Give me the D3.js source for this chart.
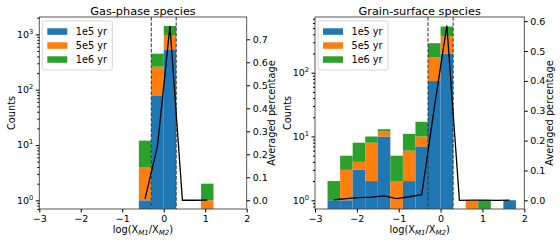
<!DOCTYPE html>
<html>
<head>
<meta charset="utf-8">
<script src="https://cdn.jsdelivr.net/npm/d3@7"></script>
<style>
body { margin: 0; background: #fff; }
text { font-family: "DejaVu Sans", sans-serif; fill: #000; }
</style>
</head>
<body>
<div id="chart"></div>
<script>
// legend / stack order
var timeLabels = ["1e5 yr", "5e5 yr", "1e6 yr"];
var colors = ["#1f77b4", "#ff7f0e", "#2ca02c"];
var binWidth = 0.3;

// gas-phase: left edges of non-empty bins, counts per time
var gasBins = [-0.6, -0.3, 0.0, 0.9];
var gas1e5 = [1, 77, 537, 0];
var gas5e5 = [3, 184, 440, 1];
var gas1e6 = [8, 187, 442, 1];
var gasCenters = [-0.45, -0.15, 0.15, 0.45, 0.75, 1.05];
var gasPct = [0.006, 0.236, 0.758, 0, 0, 0.001];

// grain-surface
var grainBins = [-2.7, -2.4, -2.1, -1.8, -1.5, -1.2, -0.9, -0.6, -0.3, 0.0, 0.6, 0.9, 1.5];
var grain1e5 = [1, 1, 3, 2, 10, 0, 2, 7, 74, 198, 0, 0, 1];
var grain5e5 = [0, 2, 1, 6, 2, 2, 4, 3, 101, 175, 1, 0, 0];
var grain1e6 = [1, 2, 4, 2, 1, 3, 5, 7, 115, 156, 0, 1, 0];
var grainCenters = [-2.55, -2.25, -1.95, -1.65, -1.35, -1.05, -0.75, -0.45, -0.15, 0.15, 0.45, 0.75, 1.05, 1.35, 1.65];
var grainPct = [0.002, 0.006, 0.009, 0.011, 0.015, 0.006, 0.012, 0.019, 0.31, 0.585, 0, 0.001, 0.001, 0, 0.001];

var xTicks = [-3, -2, -1, 0, 1, 2];
var cutLines = [-0.3, 0.3];
var gasCountTicks = [1, 10, 100, 1000];
var grainCountTicks = [1, 10, 100];
var gasPctTicks = [0, 0.1, 0.2, 0.3, 0.4, 0.5, 0.6, 0.7];
var grainPctTicks = [0, 0.1, 0.2, 0.3, 0.4, 0.5, 0.6];

var W = 560, H = 240, plotTop = 17, plotBottom = 209;
var tickFont = 9.5;

var svg = d3.select("#chart").append("svg")
    .attr("width", W).attr("height", H);

function minus(d) { return d < 0 ? "\u2212" + Math.abs(d) : String(d); }

function drawPanel(cfg, idx) {
    var x = d3.scaleLinear().domain([-3, 2]).range([cfg.x0, cfg.x1]);
    var y = d3.scaleLog().domain(cfg.countDomain).range([plotBottom, plotTop]);
    var y2 = d3.scaleLinear().domain(cfg.pctDomain).range([plotBottom, plotTop]);
    var g = svg.append("g");

    g.append("clipPath").attr("id", "clip" + idx)
        .append("rect").attr("x", cfg.x0).attr("y", plotTop)
        .attr("width", cfg.x1 - cfg.x0).attr("height", plotBottom - plotTop);

    var plot = g.append("g").attr("clip-path", "url(#clip" + idx + ")");

    // stacked bars
    cfg.bins.forEach(function(b, i) {
        var cum = 0;
        cfg.series.forEach(function(s, k) {
            var v = s[i];
            if (v <= 0) return;
            var y0 = cum > 0 ? y(cum) : plotBottom;
            var y1 = y(cum + v);
            plot.append("rect")
                .attr("x", x(b)).attr("width", x(b + binWidth) - x(b))
                .attr("y", y1).attr("height", y0 - y1)
                .attr("fill", colors[k]);
            cum += v;
        });
    });

    // cut lines
    plot.selectAll(".cut").data(cutLines).enter().append("line")
        .attr("x1", function(d) { return x(d); }).attr("x2", function(d) { return x(d); })
        .attr("y1", plotTop).attr("y2", plotBottom)
        .attr("stroke", "#333").attr("stroke-width", 1)
        .attr("stroke-dasharray", "3.7,1.6");

    // averaged percentage line
    var pts = cfg.centers.map(function(c, i) { return [c, cfg.pct[i]]; });
    plot.append("path").datum(pts)
        .attr("d", d3.line().x(function(d) { return x(d[0]); }).y(function(d) { return y2(d[1]); }))
        .attr("fill", "none").attr("stroke", "#000").attr("stroke-width", 1.3);

    // frame
    g.append("rect").attr("x", cfg.x0).attr("y", plotTop)
        .attr("width", cfg.x1 - cfg.x0).attr("height", plotBottom - plotTop)
        .attr("fill", "none").attr("stroke", "#444").attr("stroke-width", 0.9);

    // x axis
    var xa = g.append("g").attr("transform", "translate(0," + plotBottom + ")")
        .call(d3.axisBottom(x).tickValues(xTicks).tickSize(3.5).tickPadding(2.5).tickFormat(minus));
    xa.select(".domain").remove();
    xa.selectAll("text").attr("font-size", tickFont).attr("font-family", "DejaVu Sans");

    // left log axis with minor ticks
    var minor = [];
    for (var e = -1; e < 4; e++) {
        for (var m = 2; m < 10; m++) {
            var v = m * Math.pow(10, e);
            if (v > cfg.countDomain[0] && v < cfg.countDomain[1]) minor.push(v);
        }
    }
    var ya = g.append("g").attr("transform", "translate(" + cfg.x0 + ",0)");
    ya.call(d3.axisLeft(y).tickValues(minor).tickSize(2).tickFormat(""));
    ya.append("g").call(d3.axisLeft(y).tickValues(cfg.countTicks).tickSize(3.5).tickFormat(""));
    ya.selectAll(".domain").remove();
    cfg.countTicks.forEach(function(t) {
        var txt = ya.append("text").attr("x", -6).attr("y", y(t) + 3.4)
            .attr("text-anchor", "end").attr("font-size", tickFont);
        txt.append("tspan").text("10");
        txt.append("tspan").attr("dy", -4).attr("font-size", 6.7).text(Math.round(Math.log10(t)));
    });

    // right percentage axis
    var y2a = g.append("g").attr("transform", "translate(" + cfg.x1 + ",0)")
        .call(d3.axisRight(y2).tickValues(cfg.pctTicks).tickSize(3.5).tickPadding(2.5).tickFormat(d3.format(".1f")));
    y2a.select(".domain").remove();
    y2a.selectAll("text").attr("font-size", tickFont).attr("font-family", "DejaVu Sans");

    // labels
    g.append("text").attr("x", (cfg.x0 + cfg.x1) / 2).attr("y", 14.5)
        .attr("text-anchor", "middle").attr("font-size", 11.3).text(cfg.title);

    var xl = g.append("text").attr("x", (cfg.x0 + cfg.x1) / 2).attr("y", 232.5)
        .attr("text-anchor", "middle").attr("font-size", 9.8);
    xl.append("tspan").text("log(X");
    xl.append("tspan").attr("dy", 2).attr("font-size", 7).attr("font-style", "italic").text("M1");
    xl.append("tspan").attr("dy", -2).text("/X");
    xl.append("tspan").attr("dy", 2).attr("font-size", 7).attr("font-style", "italic").text("M2");
    xl.append("tspan").attr("dy", -2).text(")");

    g.append("text").attr("transform", "translate(" + (cfg.x0 - 27.5) + "," + ((plotTop + plotBottom) / 2) + ") rotate(-90)")
        .attr("text-anchor", "middle").attr("dy", "0.35em").attr("font-size", 9.8).text("Counts");
    g.append("text").attr("transform", "translate(" + (cfg.x1 + 25) + "," + ((plotTop + plotBottom) / 2) + ") rotate(-90)")
        .attr("text-anchor", "middle").attr("dy", "0.35em").attr("font-size", 9.8).text("Averaged percentage");

    // legend
    var lg = g.append("g").attr("transform", "translate(" + (cfg.x0 + 3) + ",21)");
    lg.append("rect").attr("width", 70).attr("height", 49).attr("rx", 2)
        .attr("fill", "#fff").attr("fill-opacity", 0.8).attr("stroke", "#ccc").attr("stroke-width", 0.8);
    timeLabels.forEach(function(l, k) {
        var cy = 10.5 + k * 14;
        lg.append("rect").attr("x", 5).attr("y", cy - 3.2).attr("width", 20).attr("height", 6.5).attr("fill", colors[k]);
        lg.append("text").attr("x", 33.5).attr("y", cy).attr("dy", "0.35em").attr("font-size", 9.7).text(l);
    });
}

drawPanel({
    title: "Gas-phase species", x0: 39.3, x1: 246.7,
    countDomain: [0.697, 2064], pctDomain: [-0.038, 0.797],
    bins: gasBins, series: [gas1e5, gas5e5, gas1e6],
    centers: gasCenters, pct: gasPct,
    countTicks: gasCountTicks, pctTicks: gasPctTicks
}, 0);

drawPanel({
    title: "Grain-surface species", x0: 315, x1: 524.3,
    countDomain: [0.73, 747], pctDomain: [-0.029, 0.614],
    bins: grainBins, series: [grain1e5, grain5e5, grain1e6],
    centers: grainCenters, pct: grainPct,
    countTicks: grainCountTicks, pctTicks: grainPctTicks
}, 1);
</script>
</body>
</html>
